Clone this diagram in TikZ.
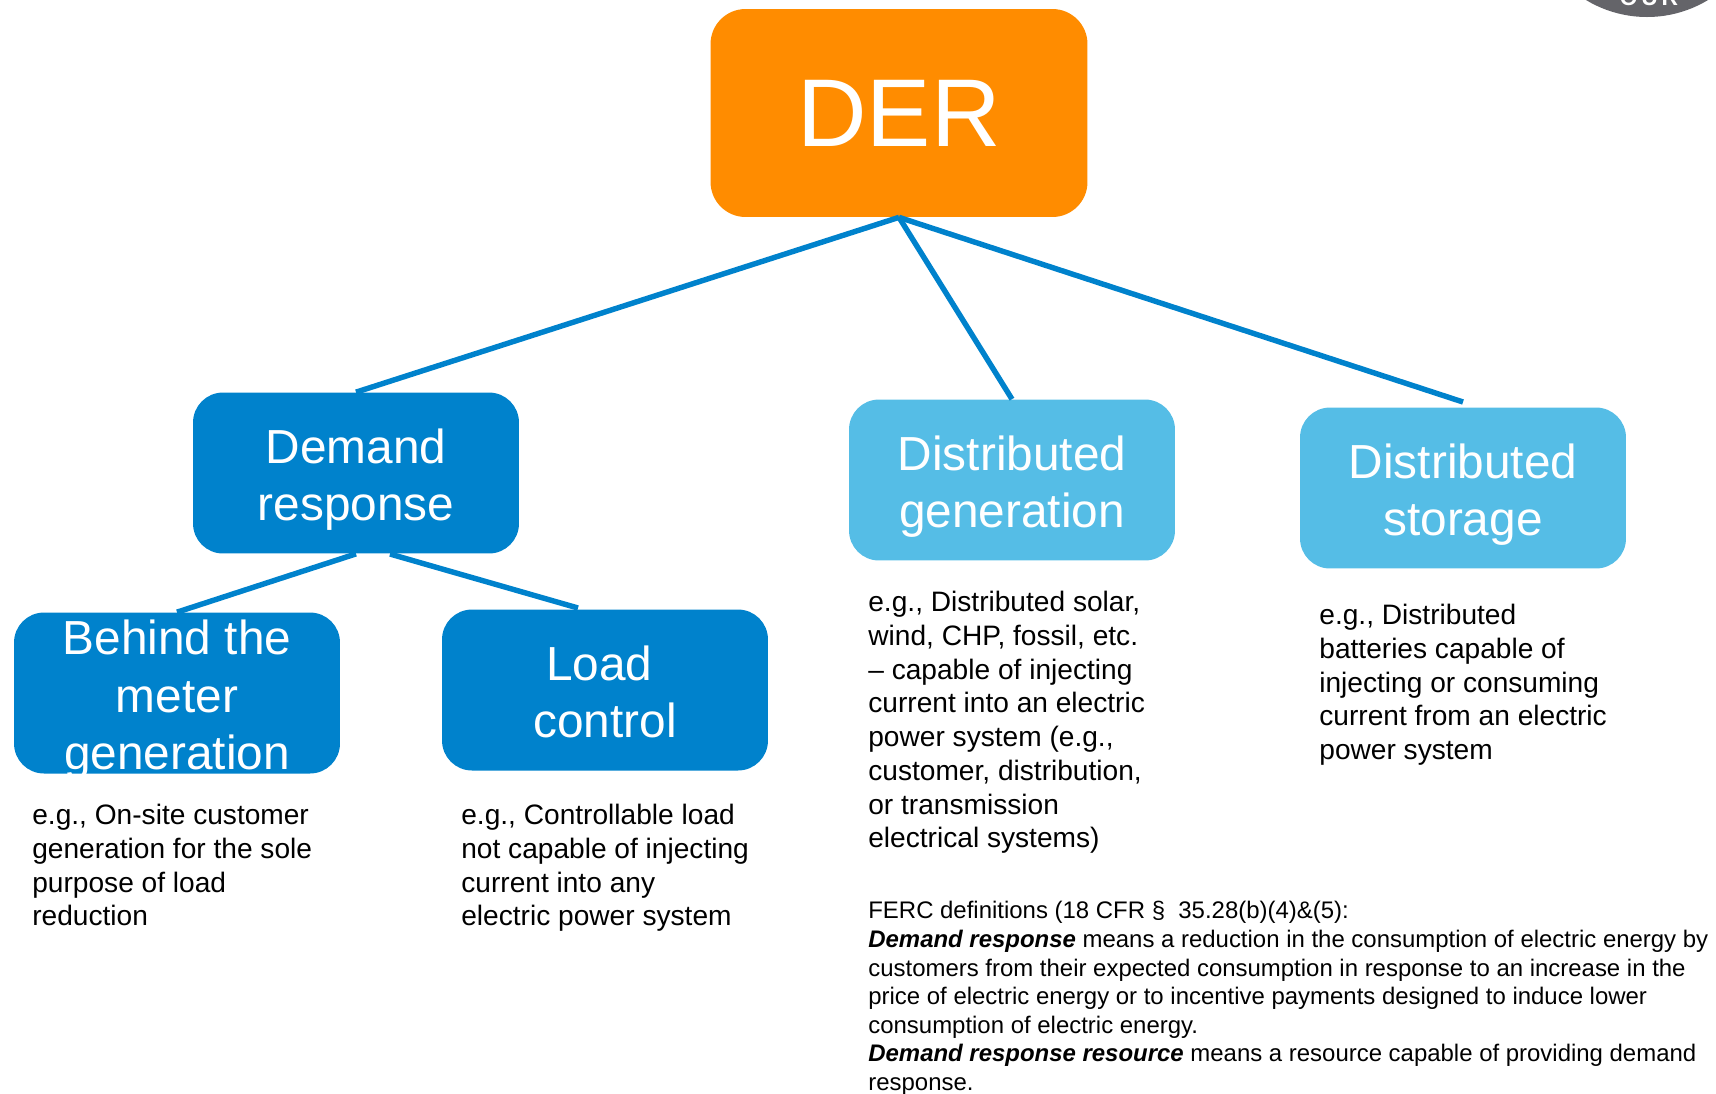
\documentclass[tikz,border=0pt]{standalone}
\usepackage{fontspec}
\setmainfont{Liberation Sans}
\definecolor{derorange}{HTML}{FF8C00}
\definecolor{derblue}{HTML}{0082CC}
\definecolor{dersky}{HTML}{55BDE6}
\definecolor{badgegray}{HTML}{646469}
\newcommand{\dropline}[1]{\rule{0pt}{#1}}
\tikzset{
  catbox/.style={rounded corners=0.6cm, minimum width=6.52cm, minimum height=3.22cm, inner sep=0pt,
    text=white, align=center, font=\fontsize{27.2}{32.7}\selectfont},
  darkbox/.style={catbox, fill=derblue},
  lightbox/.style={catbox, fill=dersky},
  tie/.style={draw=derblue, line width=3.1pt},
  notes/.style={anchor=north west, inner sep=0pt, align=left, font=\fontsize{16}{19.2}\selectfont},
  ferc/.style={anchor=north west, inner sep=0pt, align=left, font=\fontsize{13.63}{16.3}\selectfont}
}
\begin{document}
\begin{tikzpicture}[x=0.02cm, y=-0.02cm]

\useasboundingbox (0,0) rectangle (1716,1093);
\clip (0,0) rectangle (1716,1093);

% Corner badge
\fill[badgegray] (1647,-101) circle (118);
\node[text=white, font=\bfseries\fontsize{13}{16}\selectfont, inner sep=0pt] (badge) at (1649,-2) {O\,U\,R};

% Top box
\node[fill=derorange, rounded corners=0.7cm, minimum width=7.54cm, minimum height=4.16cm, inner sep=0pt,
  text=white, font=\fontsize{54.8}{60}\selectfont] (der) at (899,113) {DER};

% Middle row
\node[darkbox] (demand) at (356,473) {\dropline{27.2pt}Demand\\response};
\node[lightbox] (generation) at (1012,480) {\dropline{27.2pt}Distributed\\generation};
\node[lightbox] (storage) at (1463,488) {\dropline{27.2pt}Distributed\\storage};

% Bottom row
\node[darkbox] (behind) at (177,693) {};
\node[catbox, fill=none] (behindtext) at (177,700) {Behind the\\meter\\generation};
\node[darkbox] (load) at (605,690) {\dropline{22pt}Load\kern6.5pt\\control};

% Connectors
\coordinate (storagetop) at (1463,402);
\coordinate (loadfoot) at (390,554);
\coordinate (loadtop) at (578,608);
\draw[tie] (der.south) -- (demand.north);
\draw[tie] (der.south) -- (generation.north);
\draw[tie] (der.south) -- (storagetop);
\draw[tie] (demand.south) -- (behind.north);
\draw[tie] (loadfoot) -- (loadtop);

% Notes under the boxes
\node[notes] (behindnote) at (32,804) {e.g., On-site customer\\generation for the sole\\purpose of load\\reduction};
\node[notes] (loadnote) at (461,804) {e.g., Controllable load\\not capable of injecting\\current into any\\electric power system};
\node[notes] (gennote) at (868,591) {e.g., Distributed solar,\\wind, CHP, fossil, etc.\\– capable of injecting\\current into an electric\\power system (e.g.,\\customer, distribution,\\or transmission\\electrical systems)};
\node[notes] (storenote) at (1319,604) {e.g., Distributed\\batteries capable of\\injecting or consuming\\current from an electric\\power system};

% FERC text
\node[ferc] (fercnote) at (868,901) {FERC definitions (18 CFR §\ \ 35.28(b)(4)\&(5):\\
\textbf{\textit{Demand response}} means a reduction in the consumption of electric energy by\\
customers from their expected consumption in response to an increase in the\\
price of electric energy or to incentive payments designed to induce lower\\
consumption of electric energy.\\
\textbf{\textit{Demand response resource}} means a resource capable of providing demand\\
response.};

\end{tikzpicture}
\end{document}
